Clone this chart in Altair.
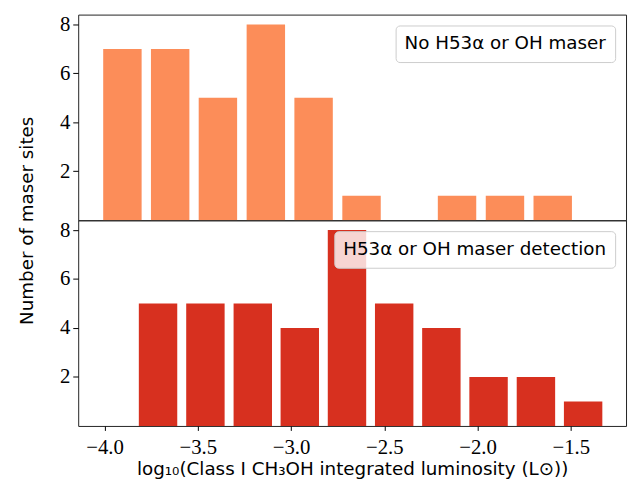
import altair as alt
import pandas as pd

# ---- data ----
top_centers = [-3.904, -3.648, -3.392, -3.135, -2.879, -2.622, -2.366, -2.110, -1.853, -1.597]
top_counts = [7, 7, 5, 8, 5, 1, 0, 1, 1, 1]
bottom_centers = [-3.966, -3.713, -3.459, -3.205, -2.953, -2.700, -2.447, -2.194, -1.941, -1.687, -1.434]
bottom_counts = [0, 5, 5, 5, 4, 8, 5, 4, 2, 2, 1]
top_label = "No H53α or OH maser"
bottom_label = "H53α or OH maser detection"
x_ticks = [-4.0, -3.5, -3.0, -2.5, -2.0, -1.5]
y_ticks = [2, 4, 6, 8]
x_title = "log₁₀(Class I CH₃OH integrated luminosity (L⊙))"
y_title = "Number of maser sites"

# ---- style ----
top_color = "#fc8d59"
bottom_color = "#d7301f"
BAR_W = 0.206
XDOM = [-4.141, -1.204]
YDOM = [0, 8.4]
W, H = 554, 208
SERIF = "Liberation Serif"
SANS = "DejaVu Sans"


def panel(centers, counts, label, color, bottom):
    df = pd.DataFrame({"center": centers, "count": counts, "series": [label] * len(centers)})
    if bottom:
        x_axis = alt.Axis(values=x_ticks, format=".1f", title=x_title,
                          titleFont=SANS, titleFontSize=18.5, titleFontWeight="normal",
                          titleColor="black", titlePadding=3,
                          labelFont=SERIF, labelFontSize=21, labelColor="black",
                          labelPadding=6, tickSize=4.5, tickColor="black",
                          domain=False, grid=False)
        y_axis = alt.Axis(values=y_ticks, title=None,
                          labelFont=SERIF, labelFontSize=21, labelColor="black",
                          labelPadding=3, tickSize=5.5, tickColor="black",
                          domain=False, grid=False)
    else:
        x_axis = None
        y_axis = alt.Axis(values=y_ticks, title=y_title,
                          titleFont=SANS, titleFontSize=18.5, titleFontWeight="normal",
                          titleColor="black", titleX=-46.7, titleY=H,
                          titleAngle=270, titleAlign="center", titleBaseline="alphabetic",
                          labelFont=SERIF, labelFontSize=21, labelColor="black",
                          labelPadding=3, tickSize=5.5, tickColor="black",
                          domain=False, grid=False)
    legend = alt.Legend(title=None, orient="top-right", offset=11,
                        fillColor="rgba(255,255,255,0.8)", strokeColor="#cccccc",
                        cornerRadius=4, padding=9, labelLimit=0,
                        labelFont=SANS, labelFontSize=18.5, labelColor="black",
                        labelOffset={"expr": "-18.5"}, symbolSize=0, symbolOpacity=0,
                        symbolStrokeWidth=0)
    return (
        alt.Chart(df)
        .transform_calculate(x0=f"datum.center - {BAR_W / 2}",
                             x1=f"datum.center + {BAR_W / 2}")
        .mark_bar()
        .encode(
            x=alt.X("x0:Q", scale=alt.Scale(domain=XDOM, nice=False, zero=False),
                    axis=x_axis),
            x2="x1:Q",
            y=alt.Y("count:Q", scale=alt.Scale(domain=YDOM, nice=False), axis=y_axis),
            y2=alt.datum(0),
            color=alt.Color("series:N",
                            scale=alt.Scale(domain=[label], range=[color]),
                            legend=legend),
        )
        .properties(width=W, height=H)
    )


top = panel(top_centers, top_counts, top_label, top_color, bottom=False)
bot = panel(bottom_centers, bottom_counts, bottom_label, bottom_color, bottom=True)

chart = (
    alt.vconcat(top, bot, spacing=0, bounds="flush")
    .resolve_scale(color="independent", x="independent", y="independent")
    .resolve_legend(color="independent")
    .properties(padding={"left": 8, "top": 2, "right": 1, "bottom": 0})
    .configure(background="white")
    .configure_view(stroke="#222222", strokeWidth=1)
)

chart.save("out.html", embed_options={"renderer": "svg", "actions": False})
